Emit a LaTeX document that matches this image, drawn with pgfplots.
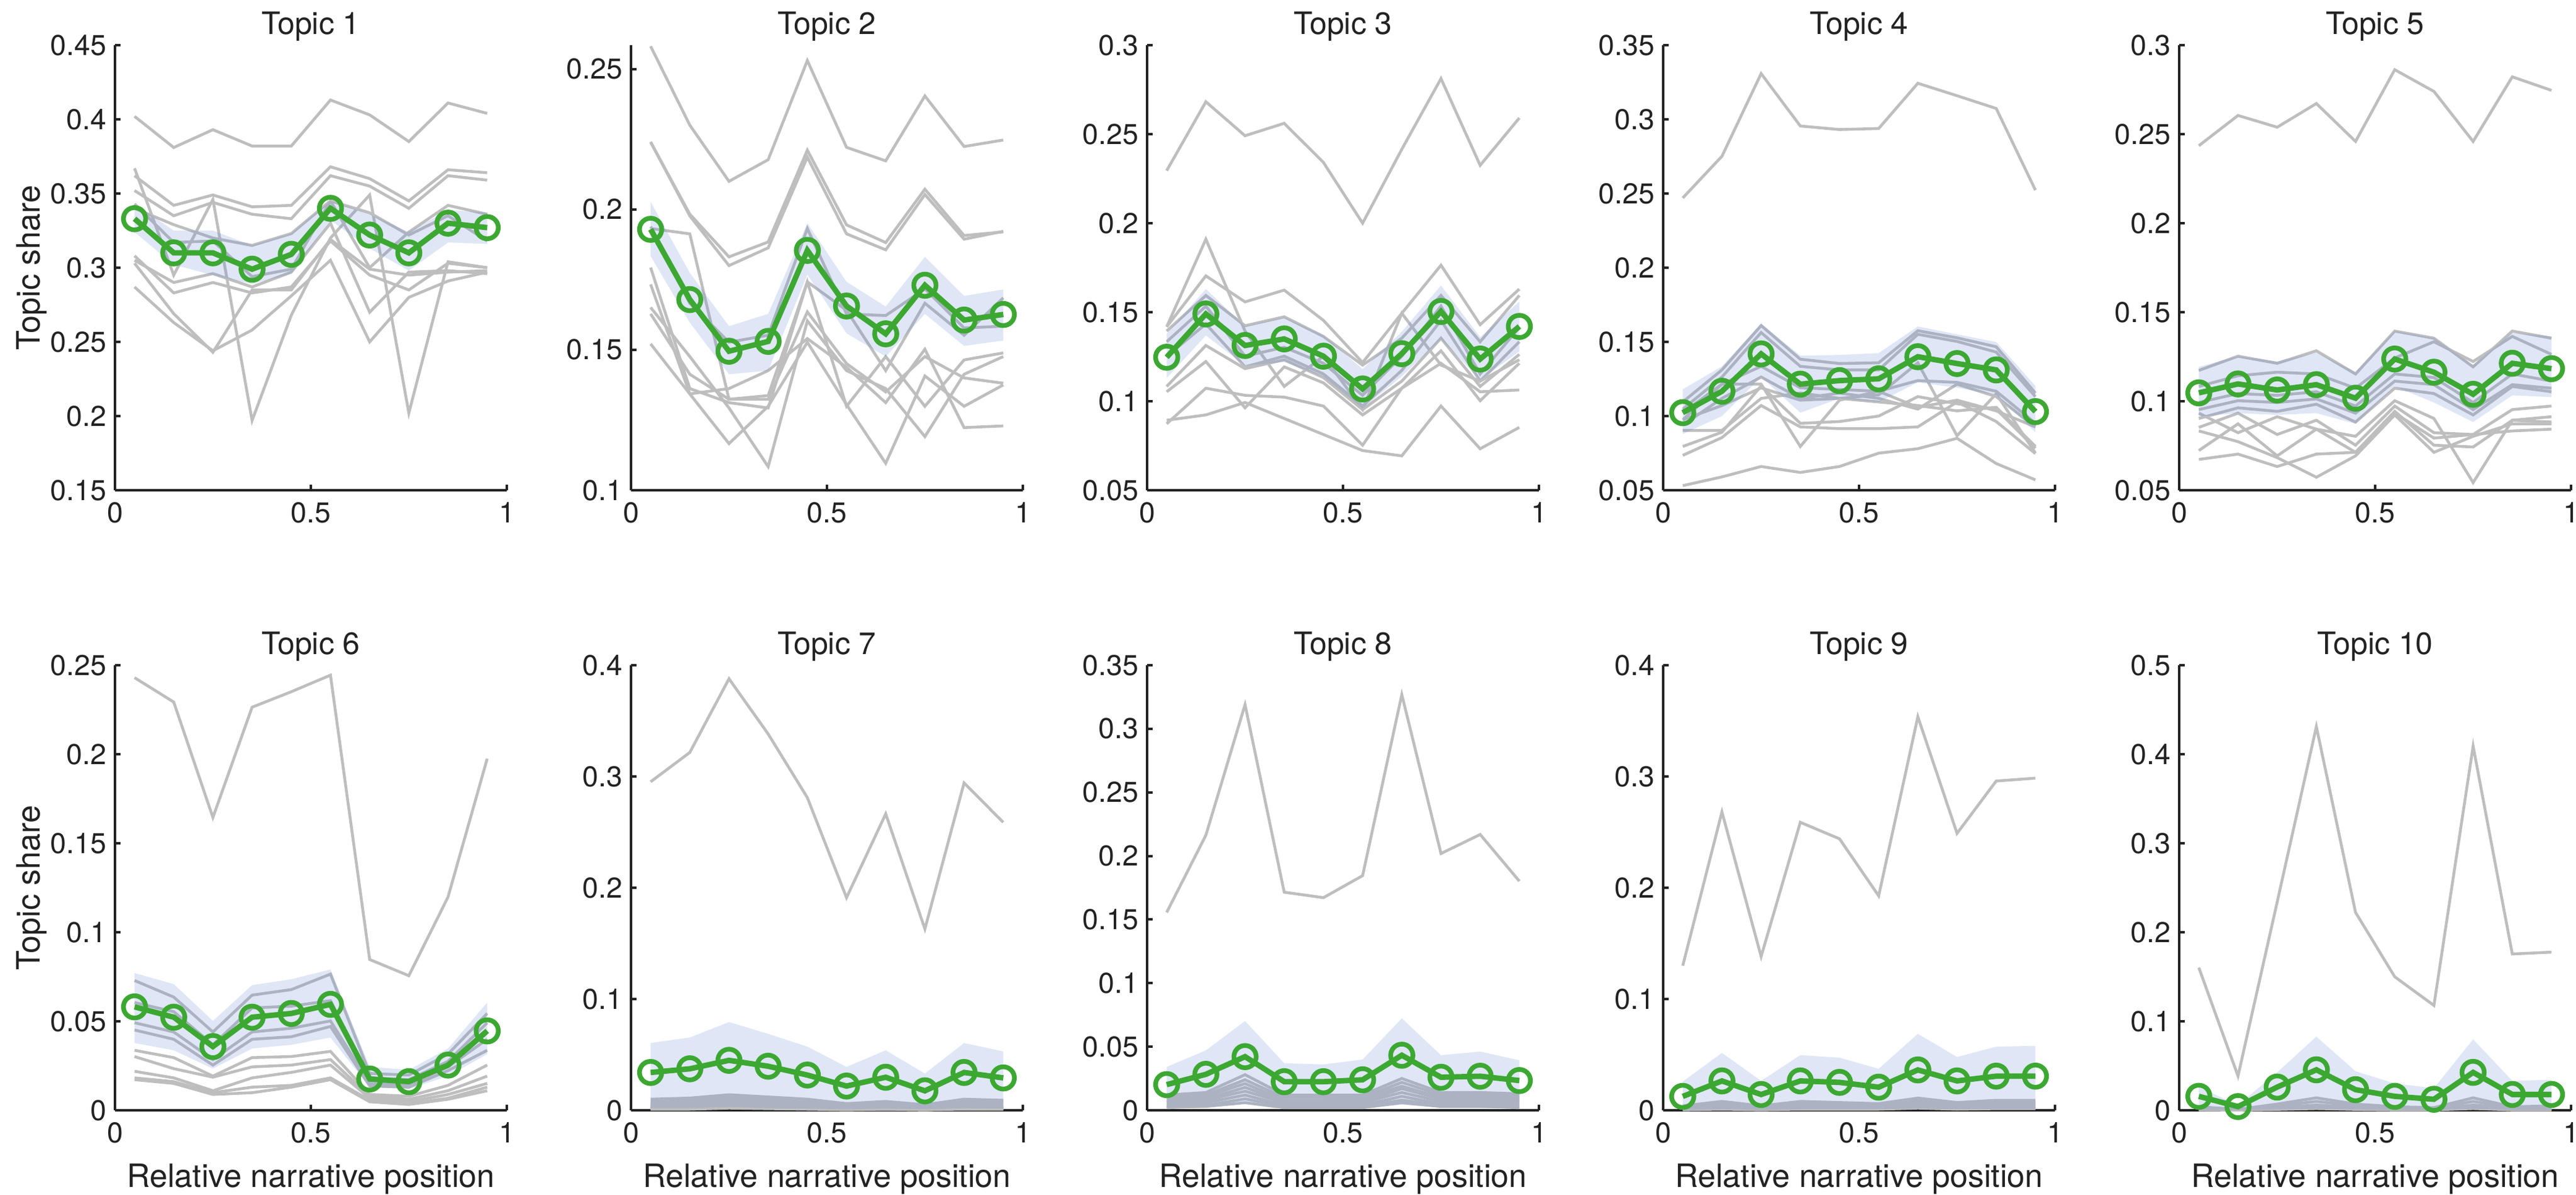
\documentclass[border=0pt]{standalone}
\usepackage{fontspec}
\setmainfont{TeX Gyre Heros}
\usepackage{pgfplots}
\usepackage{pgfplotstable}
\pgfplotsset{compat=1.18}

\definecolor{ln}{RGB}{190,190,190}
\definecolor{bandc}{RGB}{95,130,210}
\definecolor{grn}{RGB}{60,168,50}
\definecolor{ink}{RGB}{34,34,34}

\pgfplotsset{
  panel/.style={
    width=158.5pt, height=180pt, scale only axis,
    xmin=0, xmax=1, xtick={0,0.5,1},
    axis x line*=bottom, axis y line*=left,
    axis line style={-, ink, line width=1pt},
    tick pos=left, tick align=inside,
    major tick length=2.2pt,
    tick style={ink, line width=1pt},
    clip=false,
    font=\fontsize{11.6pt}{13pt}\selectfont,
    ticklabel style={font=\fontsize{11.6pt}{13pt}\selectfont, text=ink},
    /pgf/number format/assume math mode=true,
    yticklabel style={/pgf/number format/fixed, /pgf/number format/precision=2},
    xticklabel style={anchor=base, yshift=-13pt},
    scaled y ticks=false,
    every axis title/.style={at={(0.5,1)}, anchor=base, yshift=4.3pt, font=\fontsize{12.5pt}{14pt}\selectfont, text=ink},
    every axis y label/.style={at={(axis description cs:-0.213,0.5)}, rotate=90, anchor=center, font=\fontsize{13pt}{15pt}\selectfont, text=ink},
    every axis x label/.style={at={(axis description cs:0.5,0)}, anchor=base, yshift=-31pt, font=\fontsize{13pt}{15pt}\selectfont, text=ink},
  },
  gl/.style={ln, line width=1.15pt, no markers},
  band/.style={draw=none, fill=bandc, fill opacity=0.2},
  mean/.style={grn, line width=2.2pt, mark=o, mark size=4.5pt, mark options={line width=1.9pt, solid}},
}

\newcommand{\grays}[2]{\pgfplotsinvokeforeach{#2}{\addplot[gl] table[x=x,y=##1]{#1};}}

\pgfplotstableread{
x g1 g2 g3 g4 g5 g6 g7 g8 g9 g10 m
0.05 0.402 0.362 0.352 0.367 0.287 0.303 0.308 0.305 0.340 0.343 0.333
0.15 0.381 0.342 0.335 0.295 0.263 0.269 0.283 0.290 0.329 0.317 0.310
0.25 0.393 0.349 0.344 0.346 0.244 0.243 0.290 0.296 0.320 0.318 0.310
0.35 0.382 0.341 0.336 0.197 0.258 0.285 0.283 0.287 0.315 0.294 0.299
0.45 0.382 0.342 0.333 0.268 0.281 0.285 0.287 0.297 0.323 0.299 0.309
0.55 0.413 0.368 0.362 0.320 0.305 0.319 0.318 0.330 0.345 0.345 0.340
0.65 0.403 0.360 0.355 0.349 0.250 0.299 0.295 0.270 0.300 0.337 0.322
0.75 0.385 0.345 0.340 0.202 0.280 0.295 0.285 0.297 0.324 0.322 0.310
0.85 0.411 0.366 0.362 0.304 0.291 0.297 0.303 0.298 0.342 0.335 0.330
0.95 0.404 0.364 0.359 0.300 0.297 0.298 0.300 0.296 0.336 0.318 0.327
}\Ta

\pgfplotstableread{
x g1 g2 g3 g4 g5 g6 g7 g8 g9 g10 m
0.05 0.2581 0.2240 0.2240 0.1939 0.1932 0.1733 0.1651 0.1628 0.1521 0.1793 0.1929
0.15 0.2300 0.1983 0.1977 0.1666 0.1913 0.1343 0.1476 0.1413 0.1343 0.1362 0.1679
0.25 0.2100 0.1831 0.1800 0.1527 0.1324 0.1166 0.1293 0.1324 0.1362 0.1312 0.1495
0.35 0.2177 0.1884 0.1863 0.1552 0.1337 0.1299 0.1084 0.1324 0.1426 0.1293 0.1530
0.45 0.2530 0.2211 0.2186 0.1932 0.1742 0.1527 0.1603 0.1635 0.1540 0.1742 0.1854
0.55 0.2221 0.1945 0.1913 0.1628 0.1641 0.1305 0.1426 0.1451 0.1438 0.1299 0.1656
0.65 0.2173 0.1882 0.1856 0.1622 0.1426 0.1096 0.1362 0.1350 0.1312 0.1476 0.1557
0.75 0.2404 0.2072 0.2053 0.1717 0.1666 0.1407 0.1191 0.1476 0.1502 0.1299 0.1730
0.85 0.2224 0.1907 0.1894 0.1578 0.1552 0.1299 0.1413 0.1400 0.1223 0.1464 0.1606
0.95 0.2247 0.1920 0.1922 0.1584 0.1685 0.1375 0.1476 0.1381 0.1229 0.1489 0.1626
}\Tb

\pgfplotstableread{
x g1 g2 g3 g4 g5 g6 g7 g8 g9 g10 m
0.05 0.2295 0.1418 0.1418 0.1394 0.1334 0.1253 0.1083 0.1053 0.0873 0.0893 0.1247
0.15 0.2682 0.1910 0.1704 0.1594 0.1534 0.1434 0.1313 0.1223 0.1073 0.0923 0.1490
0.25 0.2491 0.1394 0.1558 0.1424 0.1253 0.1193 0.1183 0.0963 0.1033 0.0993 0.1313
0.35 0.2561 0.1083 0.1624 0.1474 0.1303 0.1253 0.1233 0.1193 0.1023 0.0903 0.1350
0.45 0.2341 0.1253 0.1454 0.1364 0.1213 0.1153 0.1133 0.1103 0.0973 0.0813 0.1253
0.55 0.2000 0.0953 0.1217 0.1203 0.1033 0.0973 0.0953 0.0923 0.0753 0.0723 0.1069
0.65 0.2415 0.1494 0.1494 0.1354 0.1253 0.1173 0.1113 0.1073 0.1073 0.0693 0.1267
0.75 0.2812 0.1203 0.1764 0.1594 0.1534 0.1454 0.1354 0.1283 0.1213 0.0973 0.1504
0.85 0.2325 0.1113 0.1430 0.1334 0.1153 0.1113 0.1083 0.1003 0.1053 0.0733 0.1237
0.95 0.2591 0.1233 0.1630 0.1594 0.1414 0.1334 0.1263 0.1213 0.1063 0.0853 0.1420
}\Tc

\pgfplotstableread{
x g1 g2 g3 g4 g5 g6 g7 g8 g9 g10 g11 m
0.05 0.2470 0.1095 0.1047 0.0975 0.0939 0.0903 0.0795 0.0735 0.1023 0.0975 0.0531 0.1023
0.15 0.2751 0.1311 0.1263 0.1215 0.1119 0.0903 0.0891 0.0855 0.1215 0.1071 0.0590 0.1167
0.25 0.3308 0.1610 0.1563 0.1335 0.1263 0.1119 0.1203 0.1071 0.1215 0.1190 0.0660 0.1419
0.35 0.2955 0.1383 0.1335 0.1191 0.1119 0.1155 0.0951 0.0927 0.0795 0.1107 0.0620 0.1215
0.45 0.2931 0.1354 0.1311 0.1179 0.1155 0.1119 0.0963 0.0915 0.1107 0.1119 0.0660 0.1239
0.55 0.2938 0.1359 0.1311 0.1167 0.1119 0.1095 0.1000 0.0915 0.1167 0.1143 0.0750 0.1251
0.65 0.3243 0.1575 0.1551 0.1239 0.1047 0.1071 0.1131 0.0927 0.1059 0.1359 0.0780 0.1400
0.75 0.3159 0.1527 0.1503 0.1227 0.1215 0.1035 0.1083 0.1095 0.1107 0.0867 0.0850 0.1354
0.85 0.3073 0.1467 0.1431 0.1167 0.1131 0.1059 0.1047 0.0963 0.1035 0.1150 0.0680 0.1311
0.95 0.2523 0.1155 0.1131 0.0951 0.0927 0.0795 0.0783 0.0747 0.0927 0.0750 0.0570 0.1030
}\Td

\pgfplotstableread{
x g1 g2 g3 g4 g5 g6 g7 g8 g9 g10 g11 m
0.05 0.2435 0.1173 0.1083 0.0993 0.0953 0.0903 0.0933 0.0853 0.0723 0.0833 0.0673 0.1047
0.15 0.2605 0.1253 0.1143 0.1043 0.1003 0.0963 0.0823 0.0933 0.0873 0.0773 0.0703 0.1097
0.25 0.2539 0.1213 0.1163 0.1033 0.0993 0.0943 0.0913 0.0813 0.0693 0.0683 0.0633 0.1063
0.35 0.2672 0.1283 0.1153 0.1053 0.1013 0.0983 0.0843 0.0893 0.0843 0.0573 0.0703 0.1093
0.45 0.2459 0.1153 0.1073 0.0973 0.0933 0.0883 0.0803 0.0753 0.0713 0.0693 0.0713 0.1017
0.55 0.2862 0.1394 0.1243 0.1153 0.1113 0.1073 0.1003 0.0973 0.0943 0.0923 0.0933 0.1237
0.65 0.2740 0.1354 0.1334 0.1133 0.1093 0.1043 0.0903 0.0823 0.0753 0.0713 0.0793 0.1163
0.75 0.2459 0.1193 0.1223 0.0993 0.0953 0.0923 0.0543 0.0813 0.0743 0.0803 0.0813 0.1039
0.85 0.2822 0.1394 0.1364 0.1153 0.1093 0.1083 0.0893 0.0953 0.0893 0.0873 0.0833 0.1213
0.95 0.2746 0.1354 0.1263 0.1113 0.1073 0.1053 0.0913 0.0973 0.0883 0.0873 0.0843 0.1183
}\Te

\pgfplotstableread{
x g1 g2 g3 g4 g5 g6 g7 g8 g9 g10 m
0.05 0.2430 0.0729 0.0605 0.0492 0.0451 0.0337 0.0302 0.0219 0.0182 0.0172 0.0581
0.15 0.2293 0.0636 0.0554 0.0440 0.0399 0.0296 0.0234 0.0182 0.0161 0.0151 0.0523
0.25 0.1645 0.0440 0.0368 0.0285 0.0254 0.0192 0.0186 0.0110 0.0099 0.0089 0.0358
0.35 0.2264 0.0647 0.0575 0.0440 0.0399 0.0296 0.0244 0.0182 0.0130 0.0099 0.0523
0.45 0.2351 0.0678 0.0585 0.0461 0.0413 0.0302 0.0254 0.0213 0.0140 0.0130 0.0544
0.55 0.2444 0.0765 0.0616 0.0502 0.0471 0.0331 0.0285 0.0254 0.0182 0.0172 0.0595
0.65 0.0847 0.0207 0.0182 0.0151 0.0137 0.0089 0.0079 0.0068 0.0058 0.0048 0.0176
0.75 0.0756 0.0198 0.0172 0.0145 0.0130 0.0079 0.0062 0.0048 0.0037 0.0033 0.0161
0.85 0.1198 0.0316 0.0275 0.0244 0.0223 0.0140 0.0110 0.0089 0.0068 0.0062 0.0254
0.95 0.1975 0.0544 0.0492 0.0399 0.0337 0.0254 0.0192 0.0151 0.0130 0.0110 0.0446
}\Tf

\pgfplotstableread{
x g1 g2 g3 g4 g5 g6 g7 g8 g9 g10 m
0.05 0.2952 0.0100 0.0080 0.0060 0.0050 0.0040 0.0030 0.0020 0.0015 0.0010 0.0340
0.15 0.3216 0.0110 0.0090 0.0070 0.0050 0.0040 0.0030 0.0020 0.0015 0.0010 0.0373
0.25 0.3878 0.0140 0.0120 0.0100 0.0080 0.0060 0.0050 0.0040 0.0030 0.0020 0.0449
0.35 0.3382 0.0120 0.0100 0.0080 0.0060 0.0050 0.0040 0.0030 0.0020 0.0015 0.0396
0.45 0.2810 0.0100 0.0080 0.0060 0.0050 0.0040 0.0030 0.0020 0.0015 0.0010 0.0317
0.55 0.1911 0.0060 0.0050 0.0040 0.0030 0.0020 0.0020 0.0010 0.0010 0.0005 0.0218
0.65 0.2664 0.0080 0.0070 0.0050 0.0040 0.0030 0.0020 0.0020 0.0010 0.0010 0.0297
0.75 0.1630 0.0050 0.0040 0.0030 0.0020 0.0020 0.0010 0.0010 0.0005 0.0005 0.0175
0.85 0.2942 0.0100 0.0080 0.0060 0.0050 0.0040 0.0030 0.0020 0.0015 0.0010 0.0340
0.95 0.2588 0.0090 0.0080 0.0060 0.0040 0.0030 0.0020 0.0020 0.0015 0.0010 0.0291
}\Tg

\pgfplotstableread{
x g1 g2 g3 g4 g5 g6 g7 g8 g9 m
0.05 0.1556 0.012 0.010 0.009 0.007 0.006 0.004 0.003 0.002 0.0202
0.15 0.2163 0.014 0.012 0.011 0.009 0.008 0.006 0.004 0.003 0.0283
0.25 0.3190 0.028 0.024 0.021 0.018 0.015 0.012 0.009 0.006 0.0422
0.35 0.1715 0.012 0.010 0.008 0.007 0.006 0.004 0.003 0.002 0.0225
0.45 0.1672 0.012 0.010 0.008 0.007 0.006 0.004 0.003 0.002 0.0225
0.55 0.1845 0.012 0.010 0.009 0.007 0.006 0.004 0.003 0.002 0.0240
0.65 0.3269 0.025 0.022 0.019 0.017 0.014 0.011 0.008 0.006 0.0433
0.75 0.2019 0.014 0.012 0.010 0.009 0.007 0.005 0.004 0.003 0.0260
0.85 0.2169 0.014 0.012 0.010 0.009 0.007 0.005 0.004 0.003 0.0268
0.95 0.1802 0.013 0.011 0.010 0.008 0.007 0.005 0.003 0.002 0.0234
}\Th

\pgfplotstableread{
x g1 g2 g3 g4 g5 g6 g7 g8 m
0.05 0.1299 0.004 0.003 0.002 0.0015 0.001 0.001 0.0005 0.0125
0.15 0.2681 0.008 0.006 0.005 0.004 0.003 0.002 0.001 0.0264
0.25 0.1382 0.004 0.003 0.002 0.0015 0.001 0.001 0.0005 0.0142
0.35 0.2588 0.008 0.006 0.005 0.004 0.003 0.002 0.001 0.0264
0.45 0.2440 0.007 0.006 0.004 0.003 0.002 0.0015 0.001 0.0251
0.55 0.1927 0.006 0.005 0.004 0.003 0.002 0.0015 0.001 0.0208
0.65 0.3537 0.011 0.009 0.007 0.005 0.004 0.003 0.002 0.0363
0.75 0.2489 0.007 0.006 0.005 0.004 0.003 0.002 0.001 0.0264
0.85 0.2959 0.009 0.007 0.006 0.004 0.003 0.002 0.0015 0.0307
0.95 0.2985 0.009 0.007 0.006 0.004 0.003 0.002 0.0015 0.0307
}\Ti

\pgfplotstableread{
x g1 g2 g3 g4 g5 g6 m
0.05 0.1603 0.004 0.003 0.002 0.001 0.0005 0.0157
0.15 0.0385 0.001 0.001 0.0005 0.0005 0.0003 0.0042
0.25 0.2340 0.007 0.005 0.003 0.002 0.001 0.0261
0.35 0.4310 0.014 0.010 0.006 0.004 0.002 0.0455
0.45 0.2223 0.007 0.005 0.003 0.002 0.001 0.0232
0.55 0.1500 0.004 0.003 0.002 0.001 0.0005 0.0157
0.65 0.1178 0.003 0.002 0.001 0.001 0.0005 0.0124
0.75 0.4090 0.014 0.010 0.006 0.004 0.002 0.0426
0.85 0.1756 0.004 0.003 0.002 0.001 0.0005 0.0178
0.95 0.1777 0.005 0.004 0.002 0.001 0.0005 0.0178
}\Tj

\begin{document}
\begin{tikzpicture}
\useasboundingbox (0,0) rectangle (1042pt,483pt);

% ---------- Row 1 ----------
\begin{axis}[panel, at={(46.5pt,284.75pt)}, anchor=south west,
  title={Topic 1}, ylabel={Topic share},
  ymin=0.15, ymax=0.45, ytick={0.15,0.2,0.25,0.3,0.35,0.4,0.45}]
\grays{\Ta}{g1,g2,g3,g4,g5,g6,g7,g8,g9,g10}
\addplot[band] coordinates {(0.05,0.343) (0.15,0.325) (0.25,0.325) (0.35,0.315) (0.45,0.323) (0.55,0.345) (0.65,0.336) (0.75,0.324) (0.85,0.339) (0.95,0.337)
 (0.95,0.316) (0.85,0.317) (0.75,0.298) (0.65,0.313) (0.55,0.332) (0.45,0.296) (0.35,0.289) (0.25,0.295) (0.15,0.302) (0.05,0.324)} -- cycle;
\addplot[mean] table[x=x,y=m]{\Ta};
\end{axis}

\begin{axis}[panel, at={(255.25pt,284.75pt)}, anchor=south west,
  title={Topic 2},
  ymin=0.1, ymax=0.2585, ytick={0.1,0.15,0.2,0.25}]
\grays{\Tb}{g1,g2,g3,g4,g5,g6,g7,g8,g9,g10}
\addplot[band] coordinates {(0.05,0.2027) (0.15,0.1774) (0.25,0.1584) (0.35,0.1628) (0.45,0.1951) (0.55,0.1742) (0.65,0.1654) (0.75,0.1831) (0.85,0.1692) (0.95,0.1715)
 (0.95,0.1533) (0.85,0.1514) (0.75,0.1628) (0.65,0.1476) (0.55,0.1559) (0.45,0.1768) (0.35,0.1426) (0.25,0.1413) (0.15,0.1597) (0.05,0.1834)} -- cycle;
\addplot[mean] table[x=x,y=m]{\Tb};
\end{axis}

\begin{axis}[panel, at={(464pt,284.75pt)}, anchor=south west,
  title={Topic 3},
  ymin=0.05, ymax=0.3, ytick={0.05,0.1,0.15,0.2,0.25,0.3}]
\grays{\Tc}{g1,g2,g3,g4,g5,g6,g7,g8,g9,g10}
\addplot[band] coordinates {(0.05,0.138) (0.15,0.163) (0.25,0.142) (0.35,0.147) (0.45,0.137) (0.55,0.118) (0.65,0.139) (0.75,0.165) (0.85,0.136) (0.95,0.156)
 (0.95,0.128) (0.85,0.112) (0.75,0.135) (0.65,0.114) (0.55,0.096) (0.45,0.114) (0.35,0.122) (0.25,0.120) (0.15,0.137) (0.05,0.113)} -- cycle;
\addplot[mean] table[x=x,y=m]{\Tc};
\end{axis}

\begin{axis}[panel, at={(672.75pt,284.75pt)}, anchor=south west,
  title={Topic 4},
  ymin=0.05, ymax=0.35, ytick={0.05,0.1,0.15,0.2,0.25,0.3,0.35}]
\grays{\Td}{g1,g2,g3,g4,g5,g6,g7,g8,g9,g10,g11}
\addplot[band] coordinates {(0.05,0.1180) (0.15,0.1335) (0.25,0.1623) (0.35,0.1407) (0.45,0.1412) (0.55,0.1424) (0.65,0.1604) (0.75,0.1551) (0.85,0.1499) (0.95,0.1203)
 (0.95,0.0891) (0.85,0.1143) (0.75,0.1191) (0.65,0.1227) (0.55,0.1095) (0.45,0.1119) (0.35,0.1023) (0.25,0.1263) (0.15,0.1000) (0.05,0.0879)} -- cycle;
\addplot[mean] table[x=x,y=m]{\Td};
\end{axis}

\begin{axis}[panel, at={(881.5pt,284.75pt)}, anchor=south west,
  title={Topic 5},
  ymin=0.05, ymax=0.3, ytick={0.05,0.1,0.15,0.2,0.25,0.3}]
\grays{\Te}{g1,g2,g3,g4,g5,g6,g7,g8,g9,g10,g11}
\addplot[band] coordinates {(0.05,0.1193) (0.15,0.1253) (0.25,0.1223) (0.35,0.1273) (0.45,0.1163) (0.55,0.1394) (0.65,0.1354) (0.75,0.1203) (0.85,0.1384) (0.95,0.1364)
 (0.95,0.1023) (0.85,0.1033) (0.75,0.0883) (0.65,0.0993) (0.55,0.1083) (0.45,0.0873) (0.35,0.0933) (0.25,0.0923) (0.15,0.0933) (0.05,0.0913)} -- cycle;
\addplot[mean] table[x=x,y=m]{\Te};
\end{axis}

% ---------- Row 2 ----------
\begin{axis}[panel, at={(46.5pt,34pt)}, anchor=south west,
  title={Topic 6}, ylabel={Topic share}, xlabel={Relative narrative position},
  ymin=0, ymax=0.25, ytick={0,0.05,0.1,0.15,0.2,0.25}]
\grays{\Tf}{g1,g2,g3,g4,g5,g6,g7,g8,g9,g10}
\addplot[band] coordinates {(0.05,0.0771) (0.15,0.0709) (0.25,0.0502) (0.35,0.0703) (0.45,0.0736) (0.55,0.0791) (0.65,0.0244) (0.75,0.0227) (0.85,0.0347) (0.95,0.0605)
 (0.95,0.0316) (0.85,0.0192) (0.75,0.0120) (0.65,0.0130) (0.55,0.0409) (0.45,0.0368) (0.35,0.0347) (0.25,0.0234) (0.15,0.0337) (0.05,0.0378)} -- cycle;
\addplot[mean] table[x=x,y=m]{\Tf};
\end{axis}

\begin{axis}[panel, at={(255.25pt,34pt)}, anchor=south west,
  title={Topic 7}, xlabel={Relative narrative position},
  ymin=0, ymax=0.4, ytick={0,0.1,0.2,0.3,0.4}]
\grays{\Tg}{g1,g2,g3,g4,g5,g6,g7,g8,g9,g10}
\addplot[band] coordinates {(0.05,0.0605) (0.15,0.0654) (0.25,0.0793) (0.35,0.0687) (0.45,0.0572) (0.55,0.0390) (0.65,0.0539) (0.75,0.0330) (0.85,0.0605) (0.95,0.0529)
 (0.95,0.0015) (0.85,0.0020) (0.75,0.0010) (0.65,0.0015) (0.55,0.0010) (0.45,0.0015) (0.35,0.0020) (0.25,0.0030) (0.15,0.0020) (0.05,0.0020)} -- cycle;
\addplot[mean] table[x=x,y=m]{\Tg};
\end{axis}

\begin{axis}[panel, at={(464pt,34pt)}, anchor=south west,
  title={Topic 8}, xlabel={Relative narrative position},
  ymin=0, ymax=0.35, ytick={0,0.05,0.1,0.15,0.2,0.25,0.3,0.35}]
\grays{\Th}{g1,g2,g3,g4,g5,g6,g7,g8,g9}
\addplot[band] coordinates {(0.05,0.0341) (0.15,0.0471) (0.25,0.0702) (0.35,0.0370) (0.45,0.0361) (0.55,0.0399) (0.65,0.0723) (0.75,0.0433) (0.85,0.0462) (0.95,0.0393)
 (0.95,0.0015) (0.85,0.0020) (0.75,0.0020) (0.65,0.0045) (0.55,0.0015) (0.45,0.0015) (0.35,0.0015) (0.25,0.0050) (0.15,0.0025) (0.05,0.0020)} -- cycle;
\addplot[mean] table[x=x,y=m]{\Th};
\end{axis}

\begin{axis}[panel, at={(672.75pt,34pt)}, anchor=south west,
  title={Topic 9}, xlabel={Relative narrative position},
  ymin=0, ymax=0.4, ytick={0,0.1,0.2,0.3,0.4}]
\grays{\Ti}{g1,g2,g3,g4,g5,g6,g7,g8}
\addplot[band] coordinates {(0.05,0.0258) (0.15,0.0516) (0.25,0.0264) (0.35,0.0496) (0.45,0.0473) (0.55,0.0373) (0.65,0.0687) (0.75,0.0479) (0.85,0.0572) (0.95,0.0579)
 (0.95,0.0010) (0.85,0.0010) (0.75,0.0010) (0.65,0.0015) (0.55,0.0010) (0.45,0.0010) (0.35,0.0010) (0.25,0.0005) (0.15,0.0010) (0.05,0.0005)} -- cycle;
\addplot[mean] table[x=x,y=m]{\Ti};
\end{axis}

\begin{axis}[panel, at={(881.5pt,34pt)}, anchor=south west,
  title={Topic 10}, xlabel={Relative narrative position},
  ymin=0, ymax=0.5, ytick={0,0.1,0.2,0.3,0.4,0.5}]
\grays{\Tj}{g1,g2,g3,g4,g5,g6}
\addplot[band] coordinates {(0.05,0.0260) (0.15,0.0060) (0.25,0.0426) (0.35,0.0827) (0.45,0.0438) (0.55,0.0302) (0.65,0.0248) (0.75,0.0797) (0.85,0.0331) (0.95,0.0343)
 (0.95,0.0005) (0.85,0.0005) (0.75,0.0015) (0.65,0.0005) (0.55,0.0005) (0.45,0.0010) (0.35,0.0015) (0.25,0.0010) (0.15,0.0003) (0.05,0.0005)} -- cycle;
\addplot[mean] table[x=x,y=m]{\Tj};
\end{axis}
\end{tikzpicture}
\end{document}
